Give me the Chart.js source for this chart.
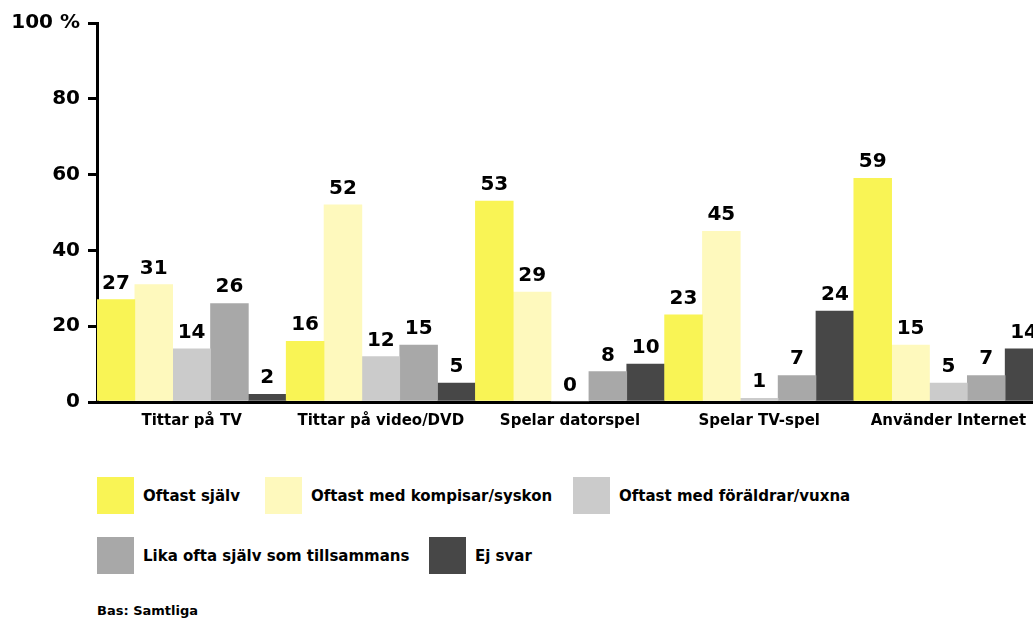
<!DOCTYPE html>
<html>
<head>
<meta charset="utf-8">
<script src="https://cdn.jsdelivr.net/npm/chart.js@4"></script>
<style>
  html, body { margin: 0; padding: 0; background: #fff; overflow: hidden; width: 1033px; height: 619px; }
  body { position: relative; font-family: "DejaVu Sans", sans-serif; font-weight: bold; color: #000; }
  #wrap { position: absolute; left: 0; top: 0; width: 1046px; height: 443px; }
  .legend-row { position: absolute; left: 97px; display: flex; align-items: center; height: 37px; font-size: 15px; }
  .item { display: flex; align-items: center; }
  .box { width: 37px; height: 37px; margin-right: 9px; }
  #note { position: absolute; left: 97px; top: 603px; font-size: 13px; }
</style>
</head>
<body>
<div id="wrap"><canvas id="chart"></canvas></div>
<div class="legend-row" id="row1" style="top:477px"></div>
<div class="legend-row" id="row2" style="top:537px"></div>
<div id="note">Bas: Samtliga</div>
<script>
const categories = ["Tittar på TV", "Tittar på video/DVD", "Spelar datorspel", "Spelar TV-spel", "Använder Internet"];
const seriesNames = ["Oftast själv", "Oftast med kompisar/syskon", "Oftast med föräldrar/vuxna", "Lika ofta själv som tillsammans", "Ej svar"];
const oftastSjalv = [27, 16, 53, 23, 59];
const medKompisar = [31, 52, 29, 45, 15];
const medForaldrar = [14, 12, 0, 1, 5];
const likaOfta = [26, 15, 8, 7, 7];
const ejSvar = [2, 5, 10, 24, 14];
const yTicks = [0, 20, 40, 60, 80, 100];

const colors = ["#F9F455", "#FEF9BD", "#CBCBCB", "#A8A8A8", "#474747"];
const seriesValues = [oftastSjalv, medKompisar, medForaldrar, likaOfta, ejSvar];

const valueLabels = {
  id: "valueLabels",
  afterDatasetsDraw(chart) {
    const ctx = chart.ctx;
    ctx.save();
    ctx.font = 'bold 20px "DejaVu Sans", sans-serif';
    ctx.fillStyle = "#000";
    ctx.textAlign = "center";
    ctx.textBaseline = "alphabetic";
    chart.data.datasets.forEach((ds, i) => {
      chart.getDatasetMeta(i).data.forEach((bar, j) => {
        ctx.fillText(String(ds.data[j]), bar.x, bar.y - 11);
      });
    });
    ctx.restore();
  }
};

new Chart(document.getElementById("chart"), {
  type: "bar",
  data: {
    labels: categories,
    datasets: seriesNames.map((name, i) => ({
      label: name,
      data: seriesValues[i],
      backgroundColor: colors[i],
      borderWidth: 0,
      barPercentage: 1,
      categoryPercentage: 1
    }))
  },
  options: {
    responsive: true,
    maintainAspectRatio: false,
    animation: false,
    layout: { padding: { top: 23, left: 0, right: 3, bottom: 11 } },
    plugins: { legend: { display: false }, tooltip: { enabled: false } },
    scales: {
      x: {
        grid: { display: false },
        border: { display: true, color: "#000", width: 3 },
        ticks: { color: "#000", font: { family: "DejaVu Sans", weight: "bold", size: 15 }, padding: 2 }
      },
      y: {
        min: 0,
        max: 100,
        afterBuildTicks: (scale) => { scale.ticks = yTicks.map(v => ({ value: v })); },
        afterFit: (scale) => { scale.width = 97; },
        grid: { drawOnChartArea: false, color: "#000", lineWidth: 3, tickLength: 9 },
        border: { display: true, color: "#000", width: 3 },
        ticks: {
          color: "#000",
          padding: 8,
          font: { family: "DejaVu Sans", weight: "bold", size: 20 },
          callback: (v) => v === 100 ? "100 %" : String(v)
        }
      }
    }
  },
  plugins: [valueLabels]
});

function buildRow(el, idx, widths) {
  idx.forEach((k, n) => {
    const item = document.createElement("div");
    item.className = "item";
    if (widths[n]) item.style.width = widths[n] + "px";
    const box = document.createElement("div");
    box.className = "box";
    box.style.background = colors[k];
    const txt = document.createElement("span");
    txt.textContent = seriesNames[k];
    item.appendChild(box);
    item.appendChild(txt);
    el.appendChild(item);
  });
}
buildRow(document.getElementById("row1"), [0, 1, 2], [168, 308, 0]);
buildRow(document.getElementById("row2"), [3, 4], [332, 0]);
</script>
</body>
</html>
